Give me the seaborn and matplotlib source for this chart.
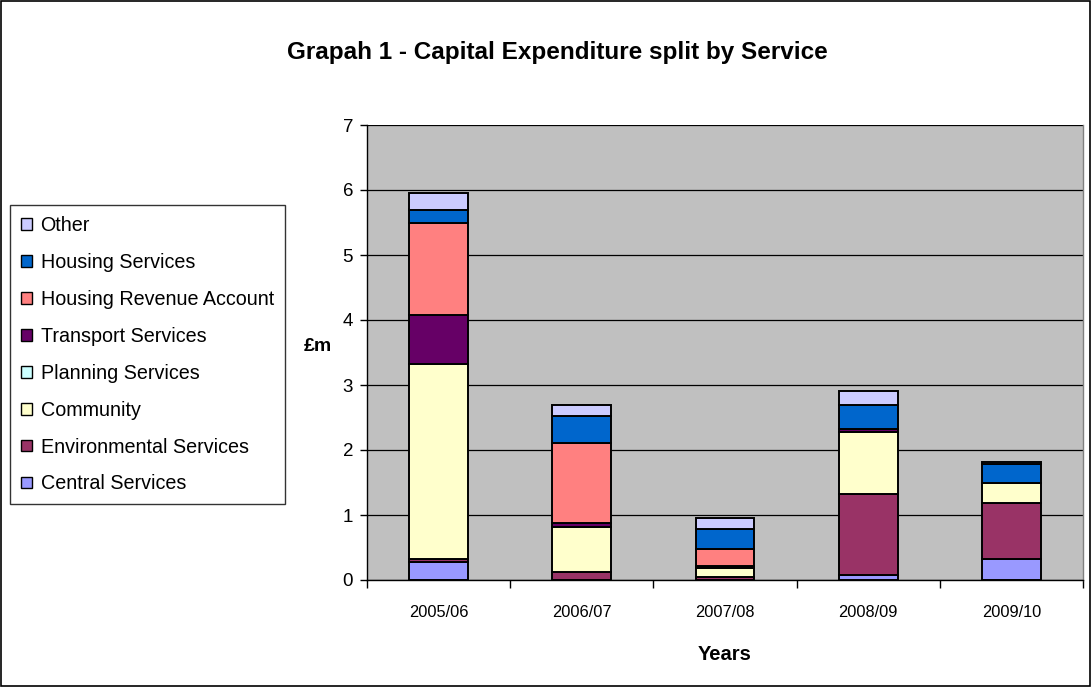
import matplotlib
matplotlib.use("Agg")
import matplotlib.pyplot as plt
import seaborn as sns
import numpy as np
import pandas as pd
from matplotlib.patches import Patch, Rectangle

years = ["2005/06", "2006/07", "2007/08", "2008/09", "2009/10"]
central = [0.27, 0.00, 0.00, 0.08, 0.32]
environmental = [0.06, 0.13, 0.05, 1.24, 0.87]
community = [2.99, 0.68, 0.13, 0.96, 0.30]
planning = [0.00, 0.00, 0.00, 0.00, 0.00]
transport = [0.76, 0.06, 0.03, 0.05, 0.00]
hra = [1.41, 1.24, 0.27, 0.00, 0.00]
housing = [0.21, 0.41, 0.30, 0.36, 0.29]
other = [0.25, 0.17, 0.17, 0.22, 0.03]

series = ["Central Services", "Environmental Services", "Community", "Planning Services",
          "Transport Services", "Housing Revenue Account", "Housing Services", "Other"]
values = [central, environmental, community, planning, transport, hra, housing, other]
colors = ["#9999FF", "#993366", "#FFFFCC", "#CCFFFF", "#660066", "#FF8080", "#0066CC", "#CCCCFF"]

sns.set_theme(style="white")
plt.rcParams['font.family'] = ['Liberation Sans', 'DejaVu Sans']
plt.rcParams.update({"text.color": "black", "axes.labelcolor": "black",
                     "xtick.color": "black", "ytick.color": "black"})

fig = plt.figure(figsize=(10.92, 6.87), dpi=100)
ax = fig.add_axes([367/1092, 107/687, 716/1092, 455/687])
ax.set_facecolor("#C0C0C0")

bottom = np.zeros(len(years))
for name, vals, col in zip(series, values, colors):
    df = pd.DataFrame({"Year": years, "v": vals})
    sns.barplot(data=df, x="Year", y="v", ax=ax, color=col, bottom=bottom,
                width=0.41, edgecolor="black", linewidth=1.4, saturation=1, errorbar=None)
    bottom = bottom + np.array(vals)

ax.set_ylim(0, 7)
ax.set_xlim(-0.5, 4.5)
ax.set_yticks(range(0, 8))
ax.yaxis.grid(True, color="black", linewidth=0.9)
ax.set_axisbelow(True)
ax.tick_params(axis="y", which="major", length=5, width=1, color="black", direction="out",
               labelsize=13.5, left=True, pad=5)
ax.set_xticks(range(5))
ax.set_xticklabels(years)
ax.tick_params(axis="x", which="major", length=0, labelsize=11.8, pad=18)
ax.set_xticks(np.arange(-0.5, 5, 1), minor=True)
ax.tick_params(axis="x", which="minor", length=6, width=1, color="black", direction="out", bottom=True)
ax.set_xlabel("Years", fontsize=14.5, fontweight="bold", labelpad=18)
ax.set_ylabel("£m", fontsize=14, fontweight="bold", rotation=0)
ax.yaxis.set_label_coords(-0.068, 0.495)
for s in ["left", "bottom"]:
    ax.spines[s].set_color("black")
    ax.spines[s].set_linewidth(1)
ax.spines["top"].set_visible(False)
ax.spines["right"].set_color("#808080")
ax.spines["right"].set_linewidth(1)

fig.text(557/1092, 1 - 52/687, "Grapah 1 - Capital Expenditure split by Service",
         ha="center", va="center", fontsize=17.5, fontweight="bold")

handles = [Patch(facecolor=c, edgecolor="black", linewidth=1, label=n)
           for n, c in zip(series[::-1], colors[::-1])]
leg = fig.legend(handles=handles, loc="upper left", bbox_to_anchor=(10/1092, 1 - 205/687),
                 bbox_transform=fig.transFigure, frameon=True, fancybox=False,
                 fontsize=14.2, handlelength=0.55, handleheight=0.55, handletextpad=0.45,
                 labelspacing=0.91, borderpad=0.55, borderaxespad=0, edgecolor="black")
leg.get_frame().set_linewidth(1)

fig.patches.append(Rectangle((0.001, 0.001), 0.997, 0.997, transform=fig.transFigure,
                             fill=False, edgecolor="black", linewidth=1.2))

fig.savefig("out.png", dpi=100)
